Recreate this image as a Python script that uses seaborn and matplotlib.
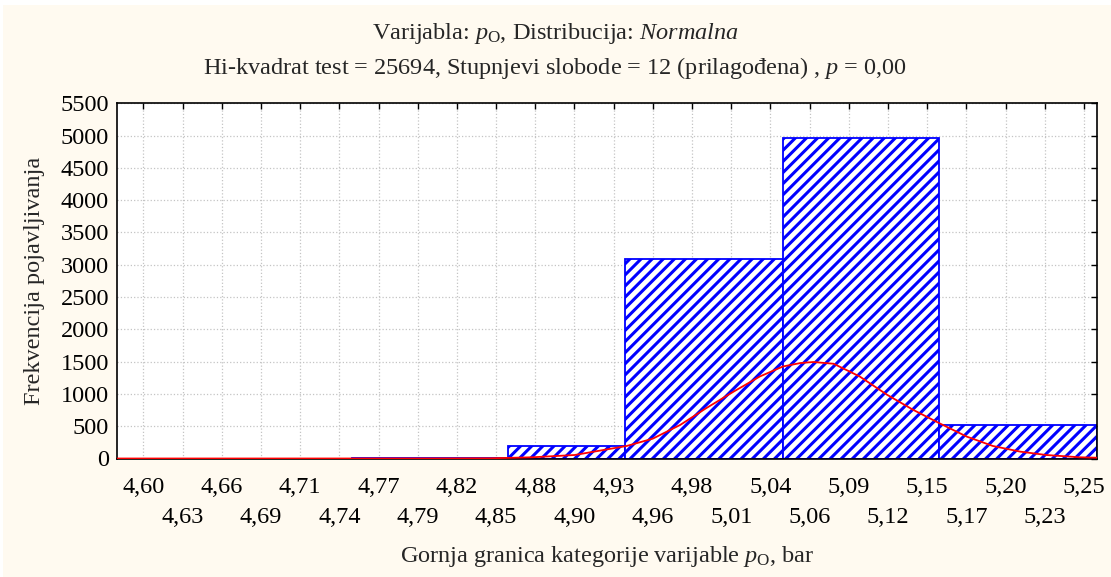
import numpy as np
import matplotlib
matplotlib.use("Agg")
import matplotlib.pyplot as plt
import seaborn as sns
from matplotlib.patches import Rectangle

# category bars (edges in bar, counts)
bin_edges = [4.744, 4.852, 4.933, 5.042, 5.150, 5.259]
bin_counts = [12, 193, 3088, 4957, 518]

# fitted normal curve
curve_x = [4.582, 4.70, 4.80, 4.84, 4.869, 4.898, 4.934, 4.952, 4.971, 4.989,
           5.008, 5.026, 5.042, 5.054, 5.063, 5.077, 5.095, 5.114, 5.132, 5.150,
           5.169, 5.187, 5.206, 5.224, 5.247, 5.259]
curve_y = [0, 0, 0.3, 3, 19, 54, 194, 307, 520, 780,
           1037, 1270, 1425, 1478, 1494, 1467, 1270, 986, 753, 547,
           339, 194, 106, 54, 19, 12]

x_tick_labels = ["4,60", "4,63", "4,66", "4,69", "4,71", "4,74", "4,77", "4,79",
                 "4,82", "4,85", "4,88", "4,90", "4,93", "4,96", "4,98", "5,01",
                 "5,04", "5,06", "5,09", "5,12", "5,15", "5,17", "5,20", "5,23", "5,25"]
y_ticks = list(range(0, 5501, 500))

sns.set_theme(style="white")
plt.rcParams["font.family"] = ["Liberation Serif", "DejaVu Serif"]
plt.rcParams["mathtext.fontset"] = "custom"
plt.rcParams["mathtext.rm"] = "Liberation Serif"
plt.rcParams["mathtext.it"] = "Liberation Serif:italic"
plt.rcParams["hatch.linewidth"] = 2.2
plt.rcParams["hatch.color"] = "#0000FF"

W, H = 1111, 577
fig = plt.figure(figsize=(W / 100, H / 100), dpi=100)
fig.patch.set_facecolor("white")
fig.patches.append(Rectangle((3 / W, 0), 1, 1 - 5 / H, transform=fig.transFigure,
                             facecolor="#FFFAF0", edgecolor="none", zorder=-10))

left, right, top, bottom = 117.3, 1097, 103.3, 458.5
ax = fig.add_axes([left / W, 1 - bottom / H, (right - left) / W, (bottom - top) / H])
ax.set_facecolor("white")
ax.set_axisbelow(True)

centers = [(a + b) / 2 for a, b in zip(bin_edges[:-1], bin_edges[1:])]
sns.histplot(x=centers, weights=bin_counts, bins=bin_edges, ax=ax,
             color="white", edgecolor="#0000FF", linewidth=1.3, hatch="///",
             alpha=1, zorder=2)
sns.lineplot(x=curve_x, y=curve_y, ax=ax, color="red", linewidth=1.3, zorder=3)

ax.set_xlim(4.582, 5.259)
ax.set_ylim(0, 5500)

fs = 17.5
x_ticks = np.linspace(4.60, 5.25, len(x_tick_labels))
ax.set_xticks(x_ticks[::2], x_tick_labels[::2])
ax.set_xticks(x_ticks[1::2], x_tick_labels[1::2], minor=True)
ax.set_yticks(y_ticks, [str(v) for v in y_ticks])
ax.tick_params(axis="both", which="both", direction="in", length=4, width=1,
               top=True, right=True, labelsize=fs, colors="black")
ax.tick_params(axis="x", which="major", pad=13)
ax.tick_params(axis="x", which="minor", pad=35)
ax.tick_params(axis="y", pad=6)

ax.grid(True, axis="x", which="both", color="#c4c4c4", linestyle=":", linewidth=0.9)
ax.grid(True, axis="y", which="major", color="#c4c4c4", linestyle=":", linewidth=0.9)
for s in ax.spines.values():
    s.set_color("black")
    s.set_linewidth(1.2)

ax.set_xlabel(r"Gornja granica kategorije varijable $p_{\mathrm{O}}$, bar", fontsize=fs)
ax.xaxis.set_label_coords(0.5, -0.241)
ax.set_ylabel("Frekvencija pojavljivanja", fontsize=fs)
ax.yaxis.set_label_coords(-0.074, 0.5)

fig.text(0.5, 1 - 34 / H, r"Varijabla: $p_{\mathrm{O}}$, Distribucija: $\mathit{Normalna}$",
         ha="center", va="center", fontsize=fs)
fig.text(0.5, 1 - 68 / H,
         r"Hi-kvadrat test = 25694, Stupnjevi slobode = 12 (prilagođena) , $p$ = 0,00",
         ha="center", va="center", fontsize=fs)

fig.savefig("out.png", dpi=100)
plt.close(fig)
